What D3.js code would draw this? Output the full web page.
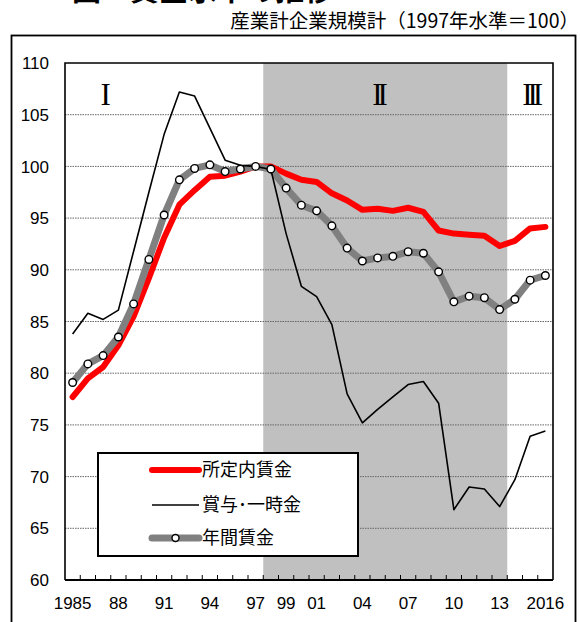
<!DOCTYPE html>
<html>
<head>
<meta charset="utf-8">
<script src="https://cdn.jsdelivr.net/npm/d3@7"></script>
<style>
  body { margin: 0; background: #fff; }
</style>
</head>
<body>
<div id="chart"></div>
<script>
// data (1997 = 100)
const years = [1985, 1986, 1987, 1988, 1989, 1990, 1991, 1992, 1993, 1994, 1995,
  1996, 1997, 1998, 1999, 2000, 2001, 2002, 2003, 2004, 2005, 2006, 2007, 2008,
  2009, 2010, 2011, 2012, 2013, 2014, 2015, 2016];

const shoteinai = [77.7, 79.5, 80.6, 82.7, 85.5, 89.2, 93.1, 96.3, 97.7, 99.0, 99.1,
  99.5, 100, 100.0, 99.3, 98.7, 98.5, 97.4, 96.7, 95.8, 95.9, 95.7, 96.0, 95.6,
  93.8, 93.5, 93.4, 93.3, 92.3, 92.8, 94.0, 94.15];

const bonus = [83.8, 85.8, 85.2, 86.1, 91.8, 97.5, 103.1, 107.2, 106.8, 103.7, 100.6,
  100.1, 100, 99.7, 93.5, 88.4, 87.4, 84.7, 78.0, 75.2, 76.5, 77.7, 78.9, 79.2,
  77.1, 66.8, 69.0, 68.8, 67.1, 69.7, 73.9, 74.4];

const nenkan = [79.1, 80.9, 81.7, 83.5, 86.7, 91.0, 95.3, 98.7, 99.8, 100.15, 99.5,
  99.75, 100, 99.75, 97.9, 96.25, 95.7, 94.25, 92.1, 90.85, 91.15, 91.3, 91.75, 91.6,
  89.8, 86.9, 87.45, 87.3, 86.15, 87.15, 89.0, 89.45];

const yTicks = [60, 65, 70, 75, 80, 85, 90, 95, 100, 105, 110];
const labelYears = [1985, 1988, 1991, 1994, 1997, 1999, 2001, 2004, 2007, 2010, 2013, 2016];
const labelText = ["1985", "88", "91", "94", "97", "99", "01", "04", "07", "10", "13", "2016"];

const shadeYears = [1998, 2013];
const periodText = ["I", "II", "III"];
const periodYears = [1987, 2005, 2015];

const legendNames = ["所定内賃金", "賞与･一時金", "年間賃金"];

const jp = "'Noto Sans CJK JP', sans-serif";
const num = "'Liberation Sans', Arial, sans-serif";

const svg = d3.select("#chart").append("svg")
  .attr("width", 580)
  .attr("height", 622);

// title (cut off at the top in the source picture)
svg.append("text")
  .attr("x", 72).attr("y", 1)
  .attr("font-family", jp).attr("font-size", 29).attr("font-weight", "bold")
  .text("図　賃金水準の推移");

svg.append("text")
  .attr("x", 579).attr("y", 28)
  .attr("text-anchor", "end")
  .attr("font-family", jp).attr("font-size", 19.5)
  .text("産業計企業規模計（1997年水準＝100）");

// outer frame
svg.append("rect")
  .attr("x", 11.5).attr("y", 35.5)
  .attr("width", 564).attr("height", 620)
  .attr("fill", "none").attr("stroke", "#000").attr("stroke-width", 1.8);

let pLeft = 65, pRight = 553, pTop = 63, pBottom = 580;

let x = d3.scaleBand().domain(years).range([pLeft, pRight]).padding(0);
let y = d3.scaleLinear().domain([60, 110]).range([pBottom, pTop]);
let bw = x.bandwidth();
let cx = (d) => x(d) + bw / 2;

// shaded period II
svg.append("rect")
  .attr("x", x(shadeYears[0]))
  .attr("y", pTop)
  .attr("width", x(shadeYears[1]) + bw - x(shadeYears[0]))
  .attr("height", pBottom - pTop)
  .attr("fill", "#c0c0c0");

// grid
svg.append("g")
  .selectAll("line")
  .data(yTicks.filter((d) => d > 60 && d < 110))
  .enter()
  .append("line")
  .attr("x1", pLeft).attr("x2", pRight)
  .attr("y1", (d) => y(d)).attr("y2", (d) => y(d))
  .attr("stroke", "#666")
  .attr("stroke-width", 1)
  .attr("stroke-dasharray", "1.5,1");

// y labels
svg.append("g")
  .selectAll("text")
  .data(yTicks)
  .enter()
  .append("text")
  .attr("x", 49)
  .attr("y", (d) => y(d))
  .attr("dy", "0.36em")
  .attr("text-anchor", "end")
  .attr("font-family", num).attr("font-size", 17)
  .text((d) => d);

// x ticks at category boundaries, pointing up
svg.append("g")
  .selectAll("line")
  .data(years.slice(1))
  .enter()
  .append("line")
  .attr("x1", (d) => x(d)).attr("x2", (d) => x(d))
  .attr("y1", pBottom).attr("y2", pBottom - 5)
  .attr("stroke", "#000").attr("stroke-width", 1);

svg.append("g")
  .selectAll("text")
  .data(labelYears)
  .enter()
  .append("text")
  .attr("x", (d) => cx(d))
  .attr("y", 609)
  .attr("text-anchor", "middle")
  .attr("font-family", num).attr("font-size", 17)
  .text((d, i) => labelText[i]);

// period numerals
svg.append("g")
  .selectAll("text")
  .data(periodText)
  .enter()
  .append("text")
  .attr("x", (d, i) => cx(periodYears[i]))
  .attr("y", 105)
  .attr("text-anchor", "middle")
  .attr("font-family", "'Liberation Serif', 'DejaVu Serif', serif")
  .attr("font-size", 31)
  .attr("letter-spacing", -5)
  .text((d) => d);

// series
let line = d3.line().x((d, i) => cx(years[i])).y((d) => y(d));

svg.append("path")
  .attr("d", line(shoteinai))
  .attr("fill", "none").attr("stroke", "#ff0000").attr("stroke-width", 6)
  .attr("stroke-linejoin", "round").attr("stroke-linecap", "round");

svg.append("path")
  .attr("d", line(nenkan))
  .attr("fill", "none").attr("stroke", "#808080").attr("stroke-width", 7)
  .attr("stroke-linejoin", "round").attr("stroke-linecap", "round");

svg.append("path")
  .attr("d", line(bonus))
  .attr("fill", "none").attr("stroke", "#000").attr("stroke-width", 1.6)
  .attr("stroke-linejoin", "round");

svg.append("g")
  .selectAll("circle")
  .data(nenkan)
  .enter()
  .append("circle")
  .attr("cx", (d, i) => cx(years[i]))
  .attr("cy", (d) => y(d))
  .attr("r", 3.8)
  .attr("fill", "#fff").attr("stroke", "#000").attr("stroke-width", 1.4);

// plot frame / axes
svg.append("path")
  .attr("d", `M${pLeft},${pBottom}V${pTop}H${pRight}V${pBottom}`)
  .attr("fill", "none").attr("stroke", "#000").attr("stroke-width", 1.6);
svg.append("line")
  .attr("x1", pLeft).attr("x2", pRight)
  .attr("y1", pBottom).attr("y2", pBottom)
  .attr("stroke", "#000").attr("stroke-width", 2);

// legend
let lg = svg.append("g").attr("transform", "translate(98,453)");
lg.append("rect")
  .attr("width", 260).attr("height", 103)
  .attr("fill", "#fff").attr("stroke", "#000").attr("stroke-width", 2);

let rows = [17, 52, 85];
lg.append("line")
  .attr("x1", 54).attr("x2", 101).attr("y1", rows[0]).attr("y2", rows[0])
  .attr("stroke", "#ff0000").attr("stroke-width", 6).attr("stroke-linecap", "round");
lg.append("line")
  .attr("x1", 54).attr("x2", 101).attr("y1", rows[1]).attr("y2", rows[1])
  .attr("stroke", "#000").attr("stroke-width", 1.6);
lg.append("line")
  .attr("x1", 54).attr("x2", 101).attr("y1", rows[2]).attr("y2", rows[2])
  .attr("stroke", "#808080").attr("stroke-width", 7).attr("stroke-linecap", "round");
lg.append("circle")
  .attr("cx", 77.5).attr("cy", rows[2]).attr("r", 3.5)
  .attr("fill", "#fff").attr("stroke", "#000").attr("stroke-width", 1.4);

lg.selectAll("text.name")
  .data(legendNames)
  .enter()
  .append("text")
  .attr("x", 104)
  .attr("y", (d, i) => rows[i])
  .attr("dy", "0.36em")
  .attr("font-family", jp).attr("font-size", 18)
  .text((d) => d);
</script>
</body>
</html>
